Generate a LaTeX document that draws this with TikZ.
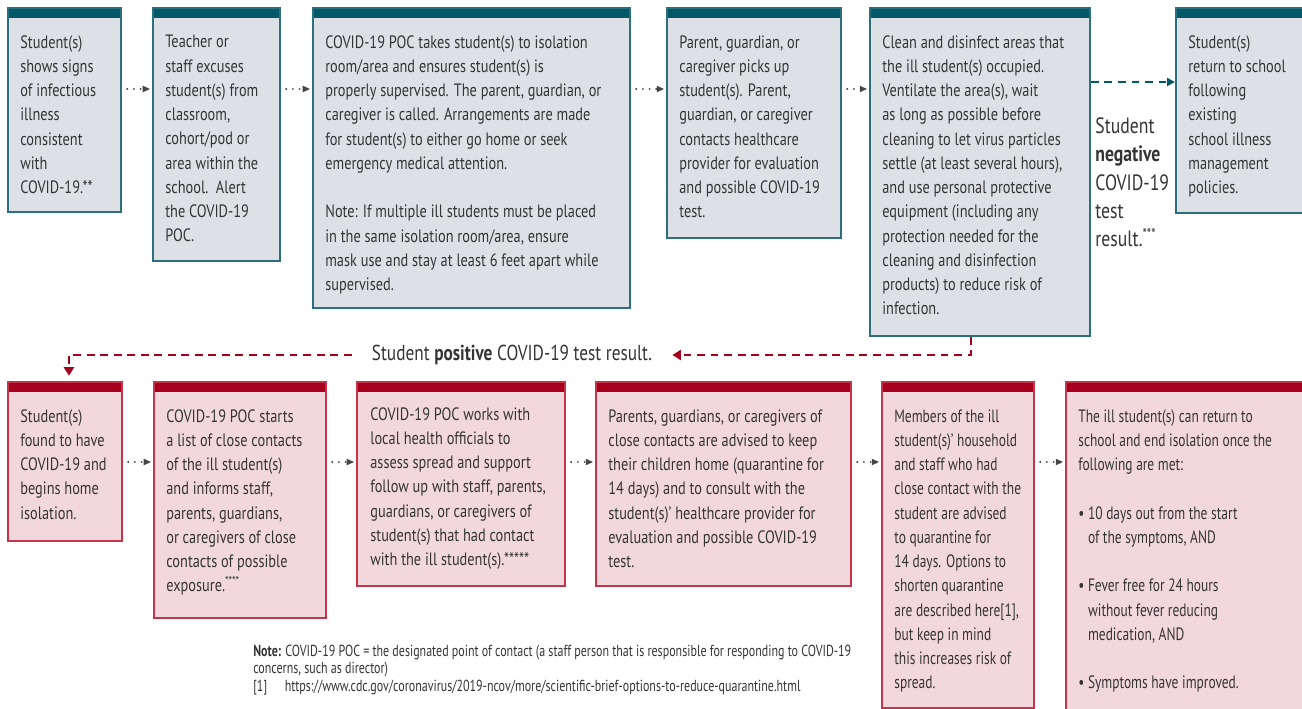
\documentclass[tikz,border=0pt]{standalone}
\usepackage{fontspec}
\setmainfont{PT Sans}[FakeStretch=0.8]
\newfontfamily\narrowfont{PT Sans}[FakeStretch=0.75]
\usetikzlibrary{arrows.meta, positioning, calc}
\definecolor{tealbar}{RGB}{0,88,104}
\definecolor{tealline}{RGB}{44,112,126}
\definecolor{topfill}{RGB}{221,225,229}
\definecolor{redbar}{RGB}{166,0,30}
\definecolor{redline}{RGB}{196,52,74}
\definecolor{redfill}{RGB}{242,216,221}
\definecolor{ink}{RGB}{52,52,52}
\definecolor{arrowgray}{RGB}{70,70,70}
\newcommand{\pxu}{0.02cm}
\tikzset{
    every node/.style={text=ink},
    size/.style 2 args={minimum width=#1*\pxu, minimum height=#2*\pxu},
    card/.style={anchor=north west, inner sep=0pt, line width=1.1pt},
    topcard/.style={card, draw=tealline, fill=topfill,
        path picture={\fill[tealbar] (path picture bounding box.north west) rectangle ([yshift=-0.21cm]path picture bounding box.north east);}},
    redcard/.style={card, draw=redline, fill=redfill,
        path picture={\fill[redbar] (path picture bounding box.north west) rectangle ([yshift=-0.21cm]path picture bounding box.north east);}},
    txt/.style={anchor=north west, inner sep=0pt, align=left, font=\fontsize{10.2}{13.8}\selectfont},
    nextarrow/.style={arrowgray, line width=1.2pt, line cap=round, dash pattern=on 0pt off 3.8pt,
        -{Triangle[length=0.15cm, width=0.12cm]}, shorten <=3pt, shorten >=1pt},
    negline/.style={tealbar, line width=1.4pt, dash pattern=on 4.5pt off 3.2pt,
        -{Triangle[length=0.16cm, width=0.16cm]}},
    posline/.style={redbar, line width=1.6pt, dash pattern=on 4.5pt off 3.2pt}
}
\begin{document}
\begin{tikzpicture}[x=0.02cm, y=-0.02cm]
    \useasboundingbox (0,0) rectangle (1302,709);
    % rows for the little arrows
    \coordinate (row1) at (0,89);
    \coordinate (row2) at (0,462);
    \coordinate (negrow) at (0,82);

    % top row
    \node[topcard, size={113}{204}] (s1) at (7,7) {};
    \node[topcard, size={127}{253}] (s2) at (152,7) {};
    \node[topcard, size={317}{300}] (s3) at (312,7) {};
    \node[topcard, size={174}{230}] (s4) at (666,7) {};
    \node[topcard, size={220}{328}] (s5) at (869,7) {};
    \node[topcard, size={135}{205}] (s6) at (1175,7) {};

    \node[txt] (s1t) at ([shift={(13,28)}]s1.north west) {Student(s)\\shows signs\\of infectious\\illness\\consistent\\with\\COVID-19.**};
    \node[txt] (s2t) at ([shift={(13,28)}]s2.north west) {Teacher or\\staff excuses\\student(s) from\\classroom,\\cohort/pod or\\area within the\\school.\ \ Alert\\the COVID-19\\POC.};
    \node[txt] (s3t) at ([shift={(13,28)}]s3.north west) {COVID-19 POC takes student(s) to isolation\\room/area and ensures student(s) is\\properly supervised. The parent, guardian, or\\caregiver is called. Arrangements are made\\for student(s) to either go home or seek\\emergency medical attention.\\[13.8pt]Note: If multiple ill students must be placed\\in the same isolation room/area, ensure\\mask use and stay at least 6 feet apart while\\supervised.};
    \node[txt] (s4t) at ([shift={(13,28)}]s4.north west) {Parent, guardian, or\\caregiver picks up\\student(s). Parent,\\guardian, or caregiver\\contacts healthcare\\provider for evaluation\\and possible COVID-19\\test.};
    \node[txt] (s5t) at ([shift={(13,28)}]s5.north west) {Clean and disinfect areas that\\the ill student(s) occupied.\\Ventilate the area(s), wait\\as long as possible before\\cleaning to let virus particles\\settle (at least several hours),\\and use personal protective\\equipment (including any\\protection needed for the\\cleaning and disinfection\\products) to reduce risk of\\infection.};
    \node[txt] (s6t) at ([shift={(13,28)}]s6.north west) {Student(s)\\return to school\\following\\existing\\school illness\\management\\policies.};

    \foreach \a/\b in {s1/s2, s2/s3, s3/s4, s4/s5}
        \draw[nextarrow] (\a.north east |- row1) -- (\b.north west |- row1);

    % negative result
    \draw[negline] (s5.north east |- negrow) -- (s6.north west |- negrow);
    \node[txt, font=\fontsize{12.6}{16.2}\selectfont] (neg) at (1095,117) {Student\\\textbf{negative}\\COVID-19\\test\\result.\textsuperscript{***}};

    % positive result
    \node[font=\fontsize{12.3}{14}\selectfont, inner xsep=0.4cm] (pos) at (512,355) {Student \textbf{positive} COVID-19 test result.};
    \draw[posline, -{Triangle[length=0.17cm, width=0.2cm]}] ([xshift=-9*\pxu]s5.south) |- (pos.east);

    % bottom row
    \node[redcard, size={114}{159}] (r1) at (7,381) {};
    \node[redcard, size={172}{236}] (r2) at (153,381) {};
    \node[redcard, size={208}{204}] (r3) at (356,381) {};
    \node[redcard, size={255}{204}] (r4) at (595,381) {};
    \node[redcard, size={152}{326}] (r5) at (881,381) {};
    \node[redcard, size={245}{340}] (r6) at (1065,381) {};

    \draw[posline, -{Triangle[length=0.17cm, width=0.2cm]}, shorten >=3pt] (pos.west) -| ([xshift=4*\pxu]r1.north);

    \node[txt] (r1t) at ([shift={(13,28)}]r1.north west) {Student(s)\\found to have\\COVID-19 and\\begins home\\isolation.};
    \node[txt] (r2t) at ([shift={(13,28)}]r2.north west) {COVID-19 POC starts\\a list of close contacts\\of the ill student(s)\\and informs staff,\\parents, guardians,\\or caregivers of close\\contacts of possible\\exposure.\textsuperscript{****}};
    \node[txt] (r3t) at ([shift={(14,26)}]r3.north west) {COVID-19 POC works with\\local health officials to\\assess spread and support\\follow up with staff, parents,\\guardians, or caregivers of\\student(s) that had contact\\with the ill student(s).*****};
    \node[txt] (r4t) at ([shift={(13,28)}]r4.north west) {Parents, guardians, or caregivers of\\close contacts are advised to keep\\their children home (quarantine for\\14 days) and to consult with the\\student(s)’ healthcare provider for\\evaluation and possible COVID-19\\test.};
    \node[txt, font=\narrowfont\fontsize{10.2}{13.8}\selectfont] (r5t) at ([shift={(13,28)}]r5.north west) {Members of the ill\\student(s)’ household\\and staff who had\\close contact with the\\student are advised\\to quarantine for\\14 days. Options to\\shorten quarantine\\are described here[1],\\but keep in mind\\this increases risk of\\spread.};
    \node[txt, font=\narrowfont\fontsize{10.2}{13.8}\selectfont] (r6t) at ([shift={(13,28)}]r6.north west) {The ill student(s) can return to\\school and end isolation once the\\following are met:\\[13.8pt]•\ 10 days out from the start\\\phantom{•\ }of the symptoms, AND\\[13.8pt]•\ Fever free for 24 hours\\\phantom{•\ }without fever reducing\\\phantom{•\ }medication, AND\\[13.8pt]•\ Symptoms have improved.};

    \foreach \a/\b in {r1/r2, r2/r3, r3/r4, r4/r5, r5/r6}
        \draw[nextarrow] (\a.north east |- row2) -- (\b.north west |- row2);

    % note below
    \node[txt, font=\narrowfont\fontsize{9.1}{9.8}\selectfont] (note) at (253,645) {\textbf{Note:} COVID-19 POC = the designated point of contact (a staff person that is responsible for responding to COVID-19\\concerns, such as director)\\{[1]}\hspace{1.1em}https://www.cdc.gov/coronavirus/2019-ncov/more/scientific-brief-options-to-reduce-quarantine.html};
\end{tikzpicture}
\end{document}
